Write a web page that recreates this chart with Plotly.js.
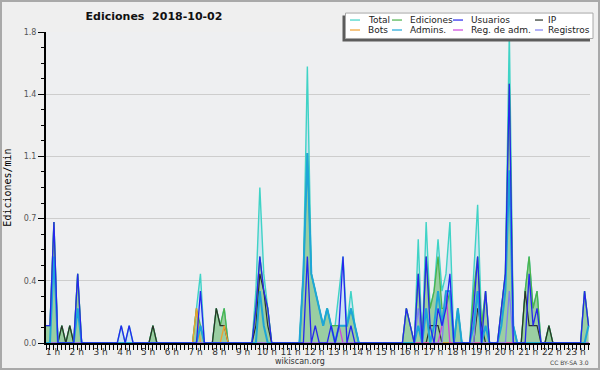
<!DOCTYPE html>
<html><head><meta charset="utf-8">
<script src="https://cdn.plot.ly/plotly-3.0.1.min.js"></script>
<style>
html,body{margin:0;padding:0;background:#efefef}
#wrap{position:relative;width:600px;height:370px}
#chart{width:600px;height:370px}
#frame{position:absolute;left:0;top:0;width:600px;height:370px;box-sizing:border-box;border:2px solid #a9a9a9;pointer-events:none}
</style>
</head><body><div id="wrap"><div id="chart"></div><div id="frame"></div></div>
<script>
// ---- data (10-minute bins, edits per minute) ----
const startHour = 1;
const stepMinutes = 10;
const seriesNames = ['Total','Ediciones','Usuarios','IP','Bots','Admins.','Reg. de adm.','Registros'];
const hourTicks = [1,2,3,4,5,6,7,8,9,10,11,12,13,14,15,16,17,18,19,20,21,22,23];
const hourLabels = ['1 h','2 h','3 h','4 h','5 h','6 h','7 h','8 h','9 h','10 h','11 h','12 h','13 h','14 h','15 h','16 h','17 h','18 h','19 h','20 h','21 h','22 h','23 h'];
const yTickVals = [0,0.36,0.72,1.08,1.44,1.8];
const yTickText = ['0.0','0.4','0.7','1.1','1.4','1.8'];

const total = [
 0.1,0.1,0.7,0,0.1,0,0.1,0,0.4,0,0,0,
 0,0,0,0,0,0,0,0.1,0,0.1,0,0,
 0,0,0,0.1,0,0,0,0,0,0,0,0,
 0,0,0.2,0.4,0,0,0,0.2,0.1,0.2,0,0,
 0,0,0,0,0,0.3,0.9,0.4,0.2,0,0,0,
 0,0,0,0,0,0.4,1.6,0.4,0.3,0.2,0.1,0.2,
 0.1,0.1,0.3,0.5,0.1,0.3,0.1,0,0,0,0,0,
 0,0,0,0,0,0,0,0.2,0.1,0,0.6,0,
 0.7,0.2,0.3,0.6,0.3,0.4,0.7,0,0.2,0,0,0,
 0.4,0.8,0.1,0.3,0,0,0,0.2,0.4,1.8,0.1,0,
 0,0.3,0.5,0.2,0.3,0,0,0.1,0,0,0,0,
 0,0,0,0,0.3,0.1];
const ediciones = [
 0.1,0.1,0.7,0,0.1,0,0.1,0,0.4,0,0,0,
 0,0,0,0,0,0,0,0,0,0,0,0,
 0,0,0,0.1,0,0,0,0,0,0,0,0,
 0,0,0.2,0.1,0,0,0,0.2,0.1,0.2,0,0,
 0,0,0,0,0,0.2,0.5,0.3,0.2,0,0,0,
 0,0,0,0,0,0.4,1.1,0.4,0.3,0.2,0.1,0.2,
 0.1,0.1,0.1,0.1,0.1,0.2,0.1,0,0,0,0,0,
 0,0,0,0,0,0,0,0.2,0.1,0,0.4,0,
 0.5,0.2,0.3,0.5,0.2,0.2,0.3,0,0.2,0,0,0,
 0.3,0.5,0.1,0.3,0,0,0,0.2,0.4,1.5,0.1,0,
 0,0.3,0.5,0.2,0.3,0,0,0.1,0,0,0,0,
 0,0,0,0,0.3,0.1];
const usuarios = [
 0.1,0.1,0.7,0,0,0,0,0,0.4,0,0,0,
 0,0,0,0,0,0,0,0.1,0,0.1,0,0,
 0,0,0,0,0,0,0,0,0,0,0,0,
 0,0,0,0.3,0,0,0,0,0,0,0,0,
 0,0,0,0,0,0.2,0.5,0.3,0.2,0,0,0,
 0,0,0,0,0,0,0.5,0,0.1,0,0,0,
 0.1,0,0.1,0.5,0,0.1,0,0,0,0,0,0,
 0,0,0,0,0,0,0,0.2,0.1,0,0.4,0,
 0.5,0.1,0,0.2,0.1,0.2,0.4,0,0,0,0,0,
 0.2,0.5,0,0.3,0,0,0,0.2,0.4,1.5,0,0,
 0,0,0.4,0.1,0.2,0,0,0,0,0,0,0,
 0,0,0,0,0.3,0.1];
const ip = [
 0,0,0,0,0.1,0,0.1,0,0,0,0,0,
 0,0,0,0,0,0,0,0,0,0,0,0,
 0,0,0,0.1,0,0,0,0,0,0,0,0,
 0,0,0,0,0,0,0,0.2,0.1,0.1,0,0,
 0,0,0,0,0,0.1,0.4,0.3,0.1,0,0,0,
 0,0,0,0,0,0,0,0,0,0,0,0,
 0,0,0,0,0,0,0,0,0,0,0,0,
 0,0,0,0,0,0,0,0,0,0,0,0,
 0,0.1,0.1,0.1,0,0,0,0,0,0,0,0,
 0,0.2,0.1,0,0,0,0,0,0,0,0,0,
 0,0.3,0.1,0.1,0.1,0,0,0.1,0,0,0,0,
 0,0,0,0,0,0];
const bots = [
 0,0,0,0,0,0,0,0,0,0,0,0,
 0,0,0,0,0,0,0,0,0,0,0,0,
 0,0,0,0,0,0,0,0,0,0,0,0,
 0,0,0.2,0,0,0,0,0,0,0.1,0,0,
 0,0,0,0,0,0,0,0,0,0,0,0,
 0,0,0,0,0,0,0,0,0,0,0,0,
 0,0,0,0,0,0,0,0,0,0,0,0,
 0,0,0,0,0,0,0,0,0,0,0,0,
 0,0,0,0,0,0,0,0,0,0,0,0,
 0,0,0,0,0,0,0,0,0,0,0,0,
 0,0,0,0,0,0,0,0,0,0,0,0,
 0,0,0,0,0,0];
const admins = [
 0,0,0.5,0,0,0,0,0,0.2,0,0,0,
 0,0,0,0,0,0,0,0,0,0,0,0,
 0,0,0,0,0,0,0,0,0,0,0,0,
 0,0,0,0.1,0,0,0,0,0,0,0,0,
 0,0,0,0,0,0,0.3,0.1,0,0,0,0,
 0,0,0,0,0,0.4,1.1,0.4,0.3,0.2,0.1,0.2,
 0.1,0,0.1,0.1,0.1,0.2,0.1,0,0,0,0,0,
 0,0,0,0,0,0,0,0,0,0,0.1,0,
 0.2,0,0.1,0.3,0.1,0.3,0.3,0,0.2,0,0,0,
 0.1,0.3,0,0.1,0,0,0,0.1,0.3,1.0,0.1,0,
 0,0,0,0,0,0,0,0,0,0,0,0,
 0,0,0,0,0,0.1];
const regAdm = [
 0,0,0,0,0,0,0,0,0,0,0,0,
 0,0,0,0,0,0,0,0,0,0,0,0,
 0,0,0,0,0,0,0,0,0,0,0,0,
 0,0,0,0,0,0,0,0,0,0,0,0,
 0,0,0,0,0,0,0,0,0,0,0,0,
 0,0,0,0,0,0,0,0,0,0,0,0,
 0,0,0.1,0,0,0,0,0,0,0,0,0,
 0,0,0,0,0,0,0,0,0,0,0,0,
 0,0,0,0,0.1,0.3,0,0,0,0,0,0,
 0,0,0,0,0,0,0,0,0,0,0,0,
 0,0,0,0,0,0,0,0,0,0,0,0,
 0,0,0,0,0,0];
const registros = [
 0,0,0,0,0,0,0,0,0,0,0,0,
 0,0,0,0,0,0,0,0,0,0,0,0,
 0,0,0,0,0,0,0,0,0,0,0,0,
 0,0,0,0,0,0,0,0,0,0,0,0,
 0,0,0,0,0,0,0,0,0,0,0,0,
 0,0,0,0,0,0,0,0,0,0,0,0,
 0,0,0,0,0,0,0,0,0,0,0,0,
 0,0,0,0,0,0,0,0,0,0,0.2,0,
 0.2,0,0,0,0,0.3,0.3,0,0,0,0,0,
 0,0.3,0,0,0,0,0,0,0,0.3,0,0,
 0,0,0,0,0,0,0,0,0,0,0,0,
 0,0,0,0,0,0];

// ---- styles ----
const seriesColors = ['#3fd3c6','#4cb34c','#2626ee','#2a332a','#f0a030','#1ea6d8','#cc44dd','#7f7ff2'];
const xs = total.map((_, i) => startHour + i * stepMinutes / 60);

function tr(y, k, extra) {
  return Object.assign({type:'scatter', mode:'lines', x: xs, y: y, name: seriesNames[k],
    line:{color: seriesColors[k], width:1.3}, hoverinfo:'skip'}, extra || {});
}
const data = [
  tr(total, 0, {fill:'tozeroy', fillcolor:'rgba(180,218,240,0.55)', line:{color:seriesColors[0], width:1.4}}),
  tr(ediciones, 1, {fill:'tozeroy', fillcolor:'rgba(140,200,140,0.78)'}),
  tr(ip, 3, {line:{color:seriesColors[3], width:1.2}}),
  tr(bots, 4),
  tr(regAdm, 6),
  tr(registros, 7),
  tr(admins, 5, {line:{color:seriesColors[5], width:2}}),
  tr(usuarios, 2)
];

// pixel -> paper helpers (plot area: x 46..590, y 31.5..343.5)
const PL = 46, PW = 544, PB = 343.5, PH = 312;
const P = px => (px - PL) / PW;
const Q = py => (PB - py) / PH;

const shapes = [
  {type:'rect', xref:'paper', yref:'paper', x0:P(342.5), x1:P(590), y0:Q(41), y1:Q(15), fillcolor:'#5c5c5c', line:{width:0}, layer:'above'},
  {type:'rect', xref:'paper', yref:'paper', x0:P(345.5), x1:P(593), y0:Q(38), y1:Q(12.5), fillcolor:'#ffffff', line:{color:'#a8a8a8', width:1}, layer:'above'}
];
const annotations = [
  {xref:'paper', yref:'paper', x:P(300), y:Q(362), text:'wikiscan.org', showarrow:false, xanchor:'center', yanchor:'middle', font:{family:'DejaVu Sans', size:8, color:'#333'}},
  {xref:'paper', yref:'paper', x:P(569), y:Q(363), text:'CC BY-SA 3.0', showarrow:false, xanchor:'center', yanchor:'middle', font:{family:'DejaVu Sans', size:6, color:'#444'}}
];
// legend (4 columns x 2 rows)
const legCols = [[350,360,366],[392,402,408],[453,463,469],[535,543,546]];
const legRows = [19.5, 29.5];
const legOrder = [[0,1,2,3],[4,5,6,7]];
legOrder.forEach((row, r) => row.forEach((k, c) => {
  const col = legCols[c], py = legRows[r];
  shapes.push({type:'line', xref:'paper', yref:'paper', x0:P(col[0]), x1:P(col[1]), y0:Q(py), y1:Q(py), line:{color:seriesColors[k], width:1.2}, layer:'above'});
  annotations.push({xref:'paper', yref:'paper', x:P(col[2]), y:Q(py), text:seriesNames[k], showarrow:false, xanchor:'left', yanchor:'middle', font:{family:'DejaVu Sans', size:9, color:'#222'}});
}));

const layout = {
  width:600, height:370,
  paper_bgcolor:'#efefef', plot_bgcolor:'#eeeff1',
  margin:{l:46, r:10, t:31.5, b:26.5, autoexpand:false},
  showlegend:false,
  title:{text:'Ediciones\u00a0 2018-10-02', font:{family:'DejaVu Sans', size:11, color:'#111', weight:'bold'},
         x:154/600, xref:'container', xanchor:'center', y:1-16/370, yref:'container', yanchor:'middle'},
  xaxis:{range:[startHour, startHour + PW/23.76], tickmode:'array', tickvals:hourTicks, ticktext:hourLabels,
         ticks:'outside', ticklen:5, tickwidth:1, tickcolor:'#000', showline:true, linecolor:'#000', linewidth:2,
         showgrid:false, zeroline:false, tickfont:{family:'DejaVu Sans', size:9, color:'#333'},
         ticklabelshift:7, ticklabelstandoff:-6,
         minor:{tickmode:'linear', dtick:1/6, tick0:0, ticks:'outside', ticklen:5, tickwidth:1, tickcolor:'#000', showgrid:false}},
  yaxis:{range:[0,1.8], tickmode:'array', tickvals:yTickVals, ticktext:yTickText,
         ticks:'outside', ticklen:6, tickwidth:1, tickcolor:'#000', showline:true, linecolor:'#000', linewidth:2,
         showgrid:true, gridcolor:'#cdcdcd', gridwidth:1, zeroline:false,
         tickfont:{family:'DejaVu Sans', size:8, color:'#555'},
         minor:{tickmode:'linear', dtick:0.09, tick0:0, ticks:'outside', ticklen:3, tickwidth:1, tickcolor:'#000', showgrid:false},
         title:{text:'Ediciones/min', font:{family:'DejaVu Sans Mono', size:10, color:'#000'}, standoff:10}},
  shapes: shapes,
  annotations: annotations
};
Plotly.newPlot('chart', data, layout, {staticPlot:true, displayModeBar:false});
</script>
</body></html>
